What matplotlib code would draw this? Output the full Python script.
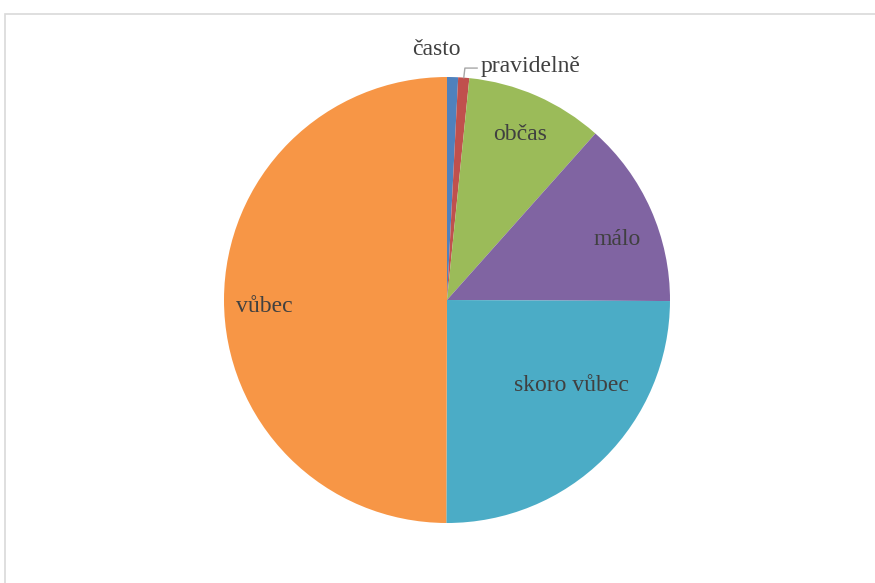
import matplotlib
matplotlib.use("Agg")
import matplotlib.pyplot as plt
from matplotlib.patches import Rectangle
import numpy as np

categories = ["často", "pravidelně", "občas", "málo", "skoro vůbec", "vůbec"]
shares = [0.8, 0.8, 10.0, 13.5, 25.0, 50.0]
colors = ["#4F81BD", "#C0504D", "#9BBB59", "#8064A2", "#4BACC6", "#F79646"]

W, H = 875, 583
fig = plt.figure(figsize=(W / 100, H / 100), dpi=100)
fig.patch.set_facecolor("white")

# chart area frame (top-left corner visible, rest runs off the canvas)
fig.add_artist(Rectangle((4.5 / W, -0.05), 1.1, 1 - 13.5 / H + 0.05,
                         transform=fig.transFigure, fill=False,
                         edgecolor="#D9D9D9", linewidth=1.2))

cx, cy, r = 447, 300, 223
ax = fig.add_axes([(cx - r) / W, (H - cy - r) / H, 2 * r / W, 2 * r / H])

ax.pie(shares, colors=colors, startangle=90, counterclock=False, radius=1,
       wedgeprops=dict(linewidth=0))
ax.set_xlim(-1, 1)
ax.set_ylim(-1, 1)
ax.set_aspect("equal")
ax.axis("off")

# label placement (data units, pie centre at origin)
label_pos = {
    "často": ((-0.049, 1.122), "center"),
    "pravidelně": ((0.150, 1.047), "left"),
    "občas": ((0.327, 0.742), "center"),
    "málo": ((0.762, 0.271), "center"),
    "skoro vůbec": ((0.556, -0.384), "center"),
    "vůbec": ((-0.821, -0.030), "center"),
}
for name in categories:
    (x, y), ha = label_pos[name]
    ax.text(x, y, name, ha=ha, va="center", fontsize=17,
            family=["Liberation Serif", "DejaVu Serif"], color="#404040",
            clip_on=False)

# leader line for the thin "pravidelně" slice
start = sum(shares[:1]) + shares[1] / 2
ang = np.deg2rad(90 - start / sum(shares) * 360)
x0, y0 = np.cos(ang), np.sin(ang)
ax.plot([x0, x0 + 0.005, 0.135], [y0, 1.040, 1.040], color="#A6A6A6",
        linewidth=1, clip_on=False)

fig.savefig("out.png", dpi=100, facecolor="white")
